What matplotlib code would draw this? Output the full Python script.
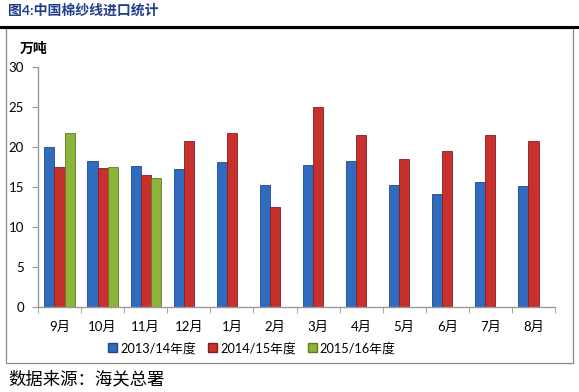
import matplotlib
matplotlib.use("Agg")
import matplotlib.pyplot as plt
import numpy as np
from matplotlib.patches import Rectangle
from matplotlib.lines import Line2D

plt.rcParams['font.family'] = ['Lato', 'Noto Sans CJK SC', 'DejaVu Sans']

months = ["9月", "10月", "11月", "12月", "1月", "2月", "3月", "4月", "5月", "6月", "7月", "8月"]
s1314 = [20.0, 18.3, 17.6, 17.3, 18.1, 15.3, 17.8, 18.2, 15.2, 14.1, 15.6, 15.1]
s1415 = [17.5, 17.4, 16.5, 20.7, 21.8, 12.5, 25.0, 21.5, 18.5, 19.5, 21.5, 20.8]
s1516 = [21.8, 17.5, 16.1]
series_names = ["2013/14年度", "2014/15年度", "2015/16年度"]
colors = ["#2f6bbf", "#c8302e", "#8cb43a"]
edges = ["#1d4a8a", "#8a1d1c", "#5f7d22"]

W, H = 579, 392
fig = plt.figure(figsize=(W / 100, H / 100), dpi=100)

ax = fig.add_axes([38 / W, 1 - 307 / H, (555 - 38) / W, (307 - 67) / H])

x = np.arange(len(months))
bw = 0.235
for i, (vals, c, e) in enumerate(zip([s1314, s1415, s1516], colors, edges)):
    xs = x[:len(vals)] + (i - 1) * bw
    ax.bar(xs, vals, width=bw, color=c, edgecolor=e, linewidth=0.6, label=series_names[i])

ax.set_xlim(-0.5, len(months) - 0.5)
ax.set_ylim(0, 30)
ax.set_yticks(range(0, 31, 5))
ax.set_xticks(x)
ax.set_xticklabels(months, fontsize=9.5)
ax.set_xticks(np.arange(-0.5, len(months), 1), minor=True)
ax.tick_params(axis='x', which='major', length=0, pad=10)
ax.tick_params(axis='x', which='minor', length=4, color='#999999', direction='out')
ax.tick_params(axis='y', length=4, color='#999999', labelsize=9.5, pad=6)
for sp in ['top', 'right']:
    ax.spines[sp].set_visible(False)
for sp in ['left', 'bottom']:
    ax.spines[sp].set_color('#999999')
    ax.spines[sp].set_linewidth(1.0)

# unit label
fig.text(20 / W, 1 - 48 / H, "万吨", fontsize=10, fontweight='bold', ha='left', va='center')

# legend
handles = [Rectangle((0, 0), 1, 1, facecolor=c, edgecolor=e) for c, e in zip(colors, edges)]
fig.legend(handles, series_names, loc='center', bbox_to_anchor=(252 / W, 1 - 348 / H),
           ncol=3, frameon=False, fontsize=9.2, handlelength=0.7, handleheight=0.7,
           handletextpad=0.2, columnspacing=1.0)

# title
fig.text(8 / W, 1 - 10 / H, "图4:中国棉纱线进口统计", fontsize=10, fontweight='bold',
         color='#233f8c', ha='left', va='center')
# thick top line
fig.add_artist(Line2D([0, 1], [1 - 27 / H, 1 - 27 / H], color='black', linewidth=2.2,
                      transform=fig.transFigure))
# border box
fig.add_artist(Rectangle((5.5 / W, 1 - 363 / H), (573 - 5.5) / W, (363 - 28) / H,
                         transform=fig.transFigure, fill=False, edgecolor='#888888', linewidth=0.9))

# source
fig.text(8 / W, 1 - 379 / H, "数据来源：海关总署", fontsize=12.5, ha='left', va='center',
         family=['Noto Sans CJK SC'])

fig.savefig("out.png", dpi=100)
